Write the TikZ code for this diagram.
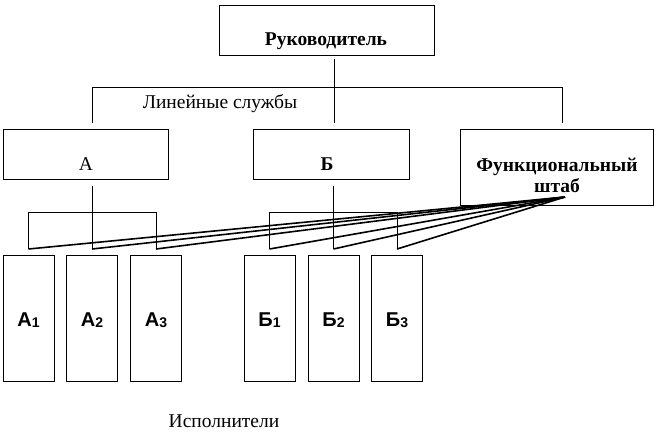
\documentclass[tikz,border=0pt]{standalone}
\usepackage{fontspec}
\setmainfont{Liberation Serif}
\newfontfamily\execfont{Liberation Sans}
\tikzset{
  unit/.style={draw, line width=1pt, inner sep=0pt},
  staffline/.style={line width=1.6pt},
  big/.style={font=\fontsize{19.5}{21}\selectfont},
  bigbold/.style={font=\bfseries\fontsize{19.5}{21}\selectfont},
  execlabel/.style={font=\execfont\bfseries\fontsize{20}{20}\selectfont},
}
\newcommand{\sub}[1]{\raisebox{-1pt}{\fontsize{14}{14}\selectfont #1}}
\begin{document}
\begin{tikzpicture}[x=1pt,y=-1pt,line width=1pt]
		\useasboundingbox (0,0) rectangle (660,440);
		% top
		\node[unit, minimum width=215, minimum height=50] (ruk) at (326.5,30) {};
		\node[bigbold] at (326,41) {Руководитель};
		\coordinate (busA) at (92,87); \coordinate (busB) at (334,87); \coordinate (busF) at (562,87);
		\draw [shorten <=3] (ruk.south -| busB) -- (busB);
		\draw (busA) -- (busF);
		\node[big] at (220,104) {Линейные службы};
		
		% second level
		\node[unit, minimum width=165, minimum height=50] (A) at (85.5,154) {};
		\node[big] at (86,164) {А};
		\node[unit, minimum width=156, minimum height=50] (B) at (331,154) {};
		\node[bigbold] at (327,164) {Б};
		\node[unit, minimum width=193, minimum height=76] (F) at (556.5,167) {};
		\node[bigbold, align=center] at (557,175) {Функциональный\\штаб};
		\draw [shorten >=6] (busA) -- (busA |- A.north);
		\draw [shorten >=6] (busB) -- (busB |- B.north);
		\draw [shorten >=6] (busF) -- (busF |- F.north);
		
		% executors
		\foreach \x/\n/\t in {28.5/a1/А\sub{1}, 92/a2/А\sub{2}, 156/a3/А\sub{3}, 269.5/b1/Б\sub{1}, 333.5/b2/Б\sub{2}, 397/b3/Б\sub{3}} {
			\node[unit, minimum width=51, minimum height=126] (\n) at (\x,318) {};
			\node[execlabel] at (\x,320) {\t};
			\coordinate (\n t) at (\x,249);
		}
		\node[big] at (224,421) {Исполнители};
		
		% brackets
		\draw [shorten <=6] (A.south -| a2t) -- (a2t);
		\draw (a1t) -- ++(0,-37) -| (a3t);
		\draw [shorten <=6] (B.south -| b2t) -- (b2t);
		\draw (b1t) -- ++(0,-37) -| (b3t);
		
		% staff links
		\coordinate (fs) at (565,197);
		\foreach \n in {a1,a2,a3,b1,b2,b3} \draw [staffline] (fs) -- (\n t);
		\end{tikzpicture}
\end{document}
